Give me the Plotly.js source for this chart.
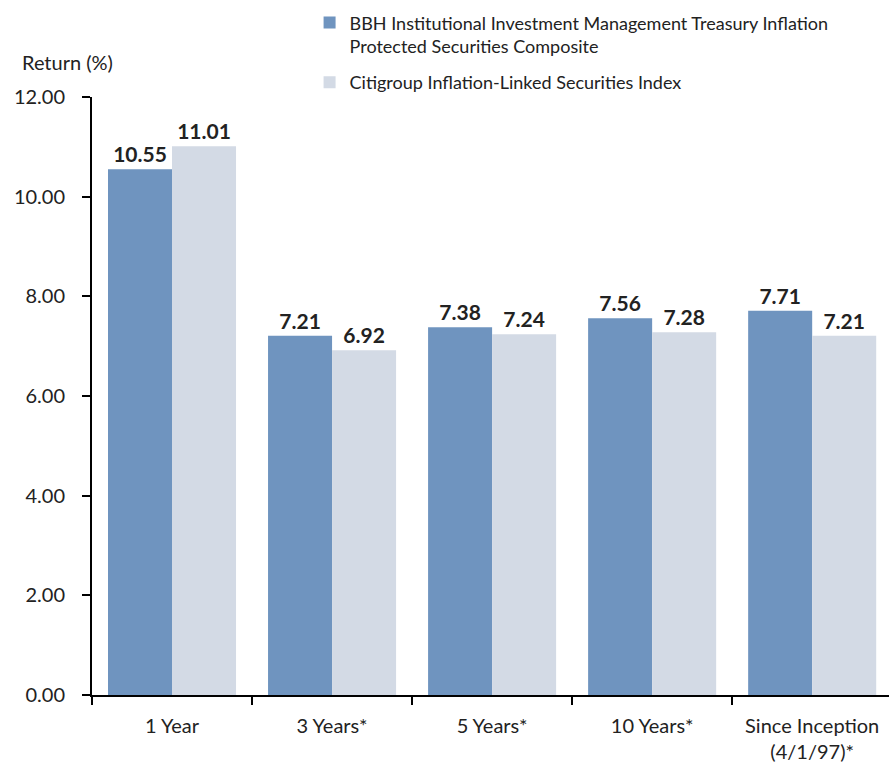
<!DOCTYPE html>
<html><head><meta charset="utf-8">
<script src="https://cdn.plot.ly/plotly-3.0.1.min.js"></script>
<style>body{margin:0;padding:0;background:#fff}#chart{width:889px;height:769px}</style>
</head><body><div id="chart"></div>
<script>
const categories = ["1 Year", "3 Years*", "5 Years*", "10 Years*", "Since Inception<br>(4/1/97)*"];
const seriesNames = ["BBH Institutional Investment Management Treasury Inflation<br>Protected Securities Composite", "Citigroup Inflation-Linked Securities Index"];
const bbhValues = [10.55, 7.21, 7.38, 7.56, 7.71];
const citiValues = [11.01, 6.92, 7.24, 7.28, 7.21];
const yTicks = [0, 2, 4, 6, 8, 10, 12];
const yTickLabels = ["0.00", "2.00", "4.00", "6.00", "8.00", "10.00", "12.00"];

const font = "Lato, 'Open Sans', sans-serif";
const traces = [
  {type: "bar", x: categories, y: bbhValues, name: seriesNames[0], legendgroup: "bbh",
   marker: {color: "#6F94BF"}, texttemplate: "<b>%{y:.2f}</b>", textposition: "outside",
   textfont: {size: 21, color: "#222", family: font}, cliponaxis: false},
  {type: "bar", x: categories, y: citiValues, name: seriesNames[1], legendgroup: "citi",
   marker: {color: "#D3DAE5"}, texttemplate: "<b>%{y:.2f}</b>", textposition: "outside",
   textfont: {size: 21, color: "#222", family: font}, cliponaxis: false}
];
const layout = {
  width: 889, height: 769,
  margin: {l: 92, r: 0, t: 97, b: 74},
  paper_bgcolor: "#fff", plot_bgcolor: "#fff",
  font: {family: font, color: "#222", size: 20},
  barmode: "group", bargap: 0.2, bargroupgap: 0,
  showlegend: true,
  legend: {x: 0.273, y: 1.155, xanchor: "left", yanchor: "top", font: {size: 18, family: font},
           itemwidth: 30, tracegroupgap: 10, traceorder: "grouped", valign: "top",
           bgcolor: "rgba(0,0,0,0)"},
  xaxis: {type: "category", range: [-0.5, 4.48], showline: true, linecolor: "#000", linewidth: 2,
          ticks: "outside", tickson: "boundaries", ticklen: 8, tickwidth: 2, tickcolor: "#000",
          showgrid: false, tickfont: {size: 20}, ticklabelstandoff: 12, fixedrange: true},
  yaxis: {range: [0, 12], tickvals: yTicks, ticktext: yTickLabels, showline: true, linecolor: "#000",
          linewidth: 2, ticks: "outside", ticklen: 8, tickwidth: 2, tickcolor: "#000",
          showgrid: false, zeroline: false, tickfont: {size: 20}, ticklabelstandoff: 13},
  annotations: [{text: "Return (%)", xref: "paper", yref: "paper", x: -0.09, y: 1.058,
                 xanchor: "left", yanchor: "middle", showarrow: false, font: {size: 20}}]
};
Plotly.newPlot("chart", traces, layout, {displayModeBar: false, staticPlot: true});
</script></body></html>
